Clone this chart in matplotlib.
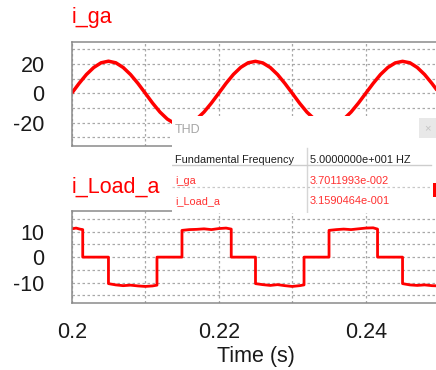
import numpy as np
import matplotlib
matplotlib.use('Agg')
import matplotlib.pyplot as plt
from matplotlib.patches import Rectangle

# ---------------- data ----------------
t_ga = np.linspace(0.20, 0.25, 51)          # sample instants (s)
i_ga = [0.0, 6.7, 12.8, 17.6, 20.8, 21.9, 20.8, 17.6, 12.8, 6.8,
        0.1, -6.7, -12.8, -17.6, -20.7, -21.8, -20.7, -17.6, -12.8, -6.7,
        0.0, 6.8, 12.9, 17.7, 20.8, 21.8, 20.7, 17.6, 12.8, 6.7,
        0.0, -6.8, -12.9, -17.6, -20.8, -21.9, -20.8, -17.7, -12.8, -6.7,
        0.0, 6.7, 12.8, 17.6, 20.7, 21.8, 20.8, 17.6, 12.8, 6.7, 0.0]

t_load = [0.2000, 0.2006, 0.2011, 0.2015, 0.2015, 0.2050, 0.2050, 0.2060,
          0.2070, 0.2080, 0.2090, 0.2100, 0.2110, 0.2116, 0.2116, 0.2150,
          0.2150, 0.2160, 0.2170, 0.2180, 0.2190, 0.2200, 0.2210, 0.2217,
          0.2217, 0.2250, 0.2250, 0.2260, 0.2270, 0.2280, 0.2290, 0.2300,
          0.2310, 0.2316, 0.2316, 0.2350, 0.2350, 0.2360, 0.2370, 0.2380,
          0.2390, 0.2400, 0.2410, 0.2416, 0.2416, 0.2450, 0.2450, 0.2460,
          0.2470, 0.2480, 0.2490, 0.2500]
i_load = [11.1, 11.4, 11.0, 10.8, 0.0, 0.0, -10.4, -10.9,
          -11.2, -11.0, -11.3, -11.5, -11.3, -11.0, 0.0, 0.0,
          10.5, 10.8, 10.9, 11.1, 10.8, 11.2, 11.4, 11.0,
          0.0, 0.0, -10.4, -10.8, -11.1, -10.8, -11.2, -11.5,
          -11.2, -10.9, 0.0, 0.0, 10.5, 10.8, 11.0, 10.8,
          11.1, 11.4, 11.5, 11.0, 0.0, 0.0, -10.4, -10.9,
          -11.1, -10.9, -11.2, -11.3]

x_ticks = [0.20, 0.21, 0.22, 0.23, 0.24]
x_labels = ['0.2', '', '0.22', '', '0.24']
y1_ticks = [-30, -20, -10, 0, 10, 20, 30]
y1_labels = ['', '-20', '', '0', '', '20', '']
y2_ticks = [-15, -10, -5, 0, 5, 10, 15]
y2_labels = ['', '-10', '', '0', '', '10', '']

titles = ['i_ga', 'i_Load_a']
xlabel = 'Time (s)'

popup_title = 'THD'
thd_rows = [('Fundamental Frequency', '5.0000000e+001 HZ'),
            ('i_ga', '3.7011993e-002'),
            ('i_Load_a', '3.1590464e-001')]

# ---------------- figure ----------------
plt.rcParams['font.family'] = ['Liberation Sans', 'DejaVu Sans']
W, H = 436, 370
fig = plt.figure(figsize=(W / 100, H / 100), dpi=100)


def px_axes(left, top, right, bottom):
    return fig.add_axes([left / W, 1 - bottom / H, (right - left) / W, (bottom - top) / H])


RED = '#ff0000'
SPINE = '#8a8a8a'
GRID = '#a8a8a8'
FS = 15.5

ax1 = px_axes(71.7, 41.7, 439.3, 145.7)
ax2 = px_axes(71.7, 211, 439.3, 303)

ax1.plot(t_ga, i_ga, color=RED, lw=2.5, solid_capstyle='butt')
ax2.plot(t_load, i_load, color=RED, lw=2.0)

for ax, yt, yl, ylim in [(ax1, y1_ticks, y1_labels, (-35.8, 35.2)),
                         (ax2, y2_ticks, y2_labels, (-18.0, 18.1))]:
    ax.set_xlim(0.20, 0.25)
    ax.set_ylim(*ylim)
    ax.set_yticks(yt, labels=yl)
    ax.set_xticks(x_ticks, labels=x_labels)
    ax.grid(True, color=GRID, linestyle=(0, (2, 2)), linewidth=0.9)
    ax.set_axisbelow(True)
    ax.tick_params(length=0, labelsize=FS, colors='#1a1a1a')
    ax.tick_params(axis='y', pad=19.5)
    ax.tick_params(axis='x', pad=13.5)
    for s in ['left', 'top', 'bottom']:
        ax.spines[s].set_color(SPINE)
        ax.spines[s].set_linewidth(1.1)
    ax.spines['right'].set_visible(False)

ax1.tick_params(axis='x', labelbottom=False)
ax2.set_xlabel(xlabel, fontsize=FS, color='#1a1a1a', labelpad=2.2)

fig.text(71.3 / W, 1 - 23 / H, titles[0], color=RED, fontsize=FS, va='baseline', ha='left')
fig.text(71.3 / W, 1 - 192.7 / H, titles[1], color=RED, fontsize=FS, va='baseline', ha='left')

# ---------------- THD popup ----------------
PL, PT, PR, PB = 172, 116, 436, 213
pop = px_axes(PL, PT, PR, PB)
pw, ph = PR - PL, PB - PT
pop.set_xlim(0, pw)
pop.set_ylim(ph, 0)
pop.axis('off')
pop.add_patch(Rectangle((0, 0), pw, ph, facecolor='white', edgecolor='none'))

pop.text(3, 16.7, popup_title, color='#a6a6a6', fontsize=9, va='baseline', ha='left')
pop.add_patch(Rectangle((247, 2), 17, 20, facecolor='#e8e8e8', edgecolor='none'))
pop.text(255.5, 12, '\u00d7', color='#c4c4c4', fontsize=8, va='center', ha='center')

pop.plot([135, 135], [32, ph], color='#d6d6d6', lw=1.0)
pop.plot([0, 259], [49, 49], color='#cdcdcd', lw=1.0)
pop.plot([0, 259], [71, 71], color='#c8c8c8', lw=0.9, linestyle=(0, (2, 2)))

row_base = [47.0, 68.0, 88.3]
row_cols = ['#1e1e1e', '#ff3030', '#ff3030']
for (a, b), yb, c in zip(thd_rows, row_base, row_cols):
    pop.text(3, yb, a, color=c, fontsize=7.8, va='baseline', ha='left')
    pop.text(138, yb, b, color=c, fontsize=7.9, va='baseline', ha='left')

pop.add_patch(Rectangle((261, 67), 3, 14, facecolor=RED, edgecolor='none'))

fig.savefig('out.png', dpi=100)
